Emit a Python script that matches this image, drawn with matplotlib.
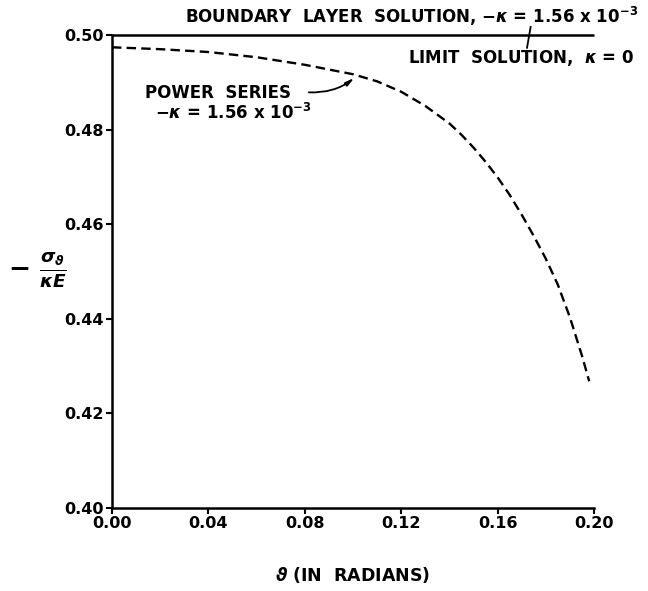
import matplotlib
matplotlib.use("Agg")
import matplotlib.pyplot as plt

# dashed curve: power series, -k = 1.56e-3
theta = [0.000, 0.020, 0.040, 0.060, 0.080, 0.100, 0.110, 0.120, 0.130, 0.140, 0.145,
         0.150, 0.155, 0.160, 0.165, 0.170, 0.175, 0.180, 0.185, 0.190, 0.195, 0.198]
power_series = [0.4974, 0.4970, 0.4964, 0.4953, 0.4937, 0.4917, 0.4902, 0.4880, 0.4850,
                0.4813, 0.4789, 0.4762, 0.4732, 0.4699, 0.4662, 0.4620, 0.4575, 0.4527,
                0.4472, 0.4403, 0.4322, 0.4268]

# solid line: boundary layer / limit solution
theta_limit = [0.0, 0.20]
limit_sol = [0.50, 0.50]

xticks = [0.00, 0.04, 0.08, 0.12, 0.16, 0.20]
yticks = [0.40, 0.42, 0.44, 0.46, 0.48, 0.50]

plt.rcParams["font.family"] = "DejaVu Sans"
plt.rcParams["font.weight"] = "bold"
plt.rcParams["mathtext.fontset"] = "dejavusans"

fig = plt.figure(figsize=(6.48, 5.91), dpi=100)
ax = fig.add_axes([0.1728, 0.1404, 0.7439, 0.8004])

ax.plot(theta_limit, limit_sol, color="black", lw=1.8, clip_on=False, solid_capstyle="butt")
ln, = ax.plot(theta, power_series, color="black", lw=1.7)
ln.set_dashes((4, 2.2))

ax.set_xlim(0, 0.20)
ax.set_ylim(0.40, 0.50)
ax.set_xticks(xticks)
ax.set_xticklabels([f"{t:.2f}" for t in xticks])
ax.set_yticks(yticks)
ax.set_yticklabels([f"{t:.2f}" for t in yticks])
for s in ["top", "right"]:
    ax.spines[s].set_visible(False)
for s in ["left", "bottom"]:
    ax.spines[s].set_linewidth(1.8)
ax.tick_params(direction="out", length=4, width=1.5, labelsize=11.5, pad=2)

# annotations
ax.text(0.0303, 0.5015, "BOUNDARY  LAYER  SOLUTION, $-\\kappa$ = 1.56 x 10$^{-3}$",
        ha="left", va="bottom", fontsize=12, clip_on=False)
ax.text(0.1228, 0.4952, "LIMIT  SOLUTION,  $\\kappa$ = 0",
        ha="left", va="center", fontsize=12, clip_on=False)
ax.plot([0.1737, 0.1722], [0.5017, 0.4973], color="black", lw=1.3, clip_on=False)

ax.text(0.0137, 0.4877, "POWER  SERIES", ha="left", va="center", fontsize=12)
ax.text(0.0178, 0.4835, "$-\\kappa$ = 1.56 x 10$^{-3}$", ha="left", va="center", fontsize=12)
ax.annotate("", xy=(0.1015, 0.4913), xytext=(0.0805, 0.4879),
            arrowprops=dict(arrowstyle="-|>,head_length=0.5,head_width=0.12",
                            color="black", lw=1.3,
                            connectionstyle="arc3,rad=0.2"))

ax.set_xlabel("$\\vartheta$ (IN  RADIANS)", fontsize=12.5, fontweight="bold", labelpad=24)
fig.text(0.058, 0.543, r"$-\ \frac{\sigma_\vartheta}{\kappa E}$", fontsize=19,
         ha="center", va="center")

fig.savefig("out.png", dpi=100)
